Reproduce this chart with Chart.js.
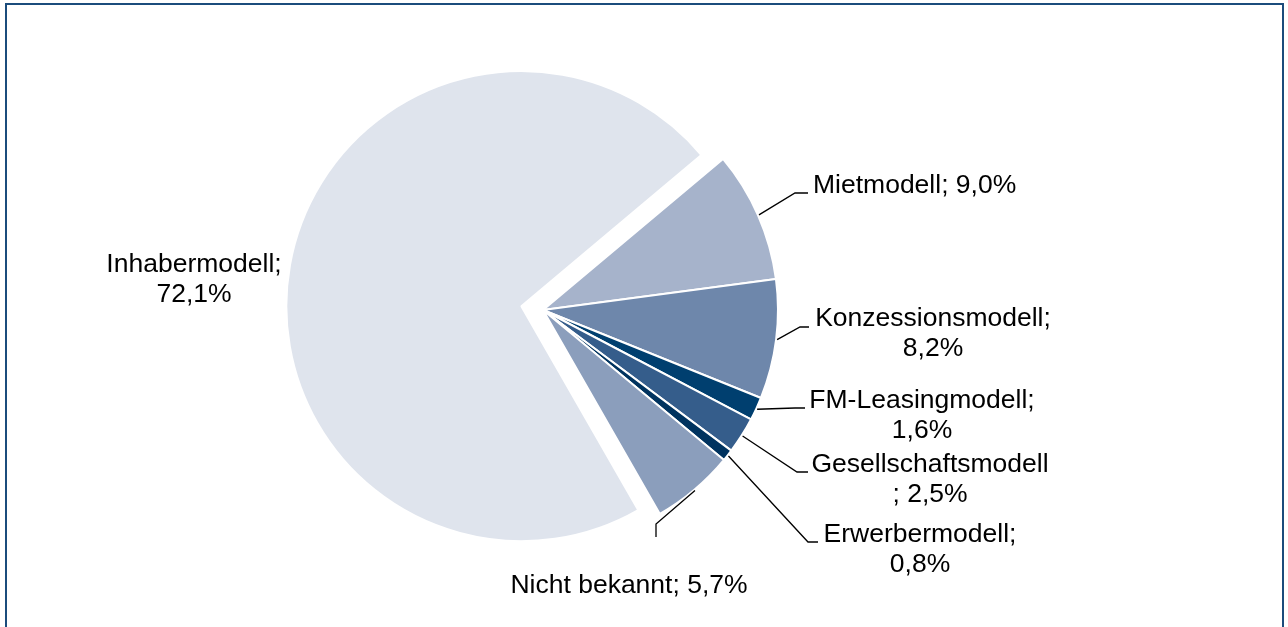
<!DOCTYPE html>
<html lang="de">
<head>
    <meta charset="UTF-8">
    <title>Betreibermodelle</title>
    <script src="https://cdn.jsdelivr.net/npm/chart.js"></script>
    <style>
        body {
            margin: 0;
            padding: 0;
            background: #fff;
            overflow: hidden;
        }
        /* Rahmen um die Grafik */
        .rahmen {
            position: absolute;
            left: 5px;
            top: 3px;
            width: 1275px;
            height: 700px;
            border: 2px solid #1B4C7C;
        }
        .wrap {
            position: absolute;
            left: 0;
            top: 0;
            width: 1288px;
            height: 627px;
        }
    </style>
</head>
<body>
    <div class="rahmen"></div>
    <div class="wrap">
        <canvas id="pieChart" width="1288" height="627"></canvas>
    </div>

    <script>
        // Daten
        var kategorien = ['Mietmodell', 'Konzessionsmodell', 'FM-Leasingmodell', 'Gesellschaftsmodell', 'Erwerbermodell', 'Nicht bekannt', 'Inhabermodell'];
        var anteile = [9.0, 8.2, 1.6, 2.5, 0.8, 5.7, 72.1];
        var farben = ['#A6B3CB', '#6E87AB', '#003F6F', '#355D8B', '#00335F', '#8B9EBC', '#DFE4ED'];
        // Beschriftungen (Zeilen wie im Original umbrochen)
        var beschriftungen = [
            ['Mietmodell; 9,0%'],
            ['Konzessionsmodell;', '8,2%'],
            ['FM-Leasingmodell;', '1,6%'],
            ['Gesellschaftsmodell', '; 2,5%'],
            ['Erwerbermodell;', '0,8%'],
            ['Nicht bekannt; 5,7%'],
            ['Inhabermodell;', '72,1%']
        ];

        // Layout der Beschriftungen: Text-Position, Knick und Ende der Führungslinie
        var labelLayout = [
            { x: 813, y: 193, align: 'left',   knick: [795, 193], ende: [808, 193] },
            { x: 933, y: 326, align: 'center', knick: [800, 327], ende: [809, 327] },
            { x: 922, y: 408, align: 'center', knick: [795, 408], ende: [805, 408] },
            { x: 930, y: 472, align: 'center', knick: [797, 472], ende: [808, 472] },
            { x: 920, y: 542, align: 'center', knick: [808, 542], ende: [818, 542] },
            { x: 629, y: 593, align: 'center', knick: [656, 524], ende: [656, 537] },
            { x: 194, y: 272, align: 'center', knick: null, ende: null }
        ];

        // herausgezogenes Segment (Inhabermodell) und Abstand in px
        var explodeIndex = 6;
        var explodeAbstand = 22;

        // Segment verschieben, ohne den Radius zu ändern (offset in v4 vergrößert auch den Radius)
        var explodePlugin = {
            id: 'explodePlugin',
            afterUpdate: function(chart) {
                var arc = chart.getDatasetMeta(0).data[explodeIndex];
                var mitte = (arc.startAngle + arc.endAngle) / 2;
                arc.x += Math.cos(mitte) * explodeAbstand;
                arc.y += Math.sin(mitte) * explodeAbstand;
            }
        };

        var labelPlugin = {
            id: 'labelPlugin',
            afterDraw: function(chart) {
                var ctx = chart.ctx;
                var meta = chart.getDatasetMeta(0);
                ctx.save();
                meta.data.forEach(function(arc, i) {
                    var p = arc.getProps(['x', 'y', 'startAngle', 'endAngle', 'outerRadius']);
                    var lay = labelLayout[i];
                    var mitte = (p.startAngle + p.endAngle) / 2;
                    if (lay.knick) {
                        var ax = p.x + Math.cos(mitte) * (p.outerRadius + 1);
                        var ay = p.y + Math.sin(mitte) * (p.outerRadius + 1);
                        ctx.beginPath();
                        ctx.moveTo(ax, ay);
                        ctx.lineTo(lay.knick[0], lay.knick[1]);
                        ctx.lineTo(lay.ende[0], lay.ende[1]);
                        ctx.strokeStyle = '#000';
                        ctx.lineWidth = 1.3;
                        ctx.stroke();
                    }
                    ctx.fillStyle = '#000';
                    ctx.font = '26.5px "Liberation Sans", Arial, sans-serif';
                    ctx.textAlign = lay.align;
                    ctx.textBaseline = 'alphabetic';
                    beschriftungen[i].forEach(function(zeile, j) {
                        ctx.fillText(zeile, lay.x, lay.y + j * 30);
                    });
                });
                ctx.restore();
            }
        };

        var ctx1 = document.getElementById('pieChart').getContext('2d');
        var pieChart = new Chart(ctx1, {
            type: 'pie',
            data: {
                labels: kategorien,
                datasets: [{
                    data: anteile,
                    backgroundColor: farben,
                    borderColor: '#ffffff',
                    borderWidth: 2
                }]
            },
            options: {
                responsive: false,
                animation: false,
                rotation: 50,
                radius: 235,
                layout: {
                    padding: { left: 20, right: 222, top: 20, bottom: 27 }
                },
                plugins: {
                    legend: { display: false },
                    tooltip: { enabled: false }
                }
            },
            plugins: [explodePlugin, labelPlugin]
        });
    </script>
</body>
</html>
